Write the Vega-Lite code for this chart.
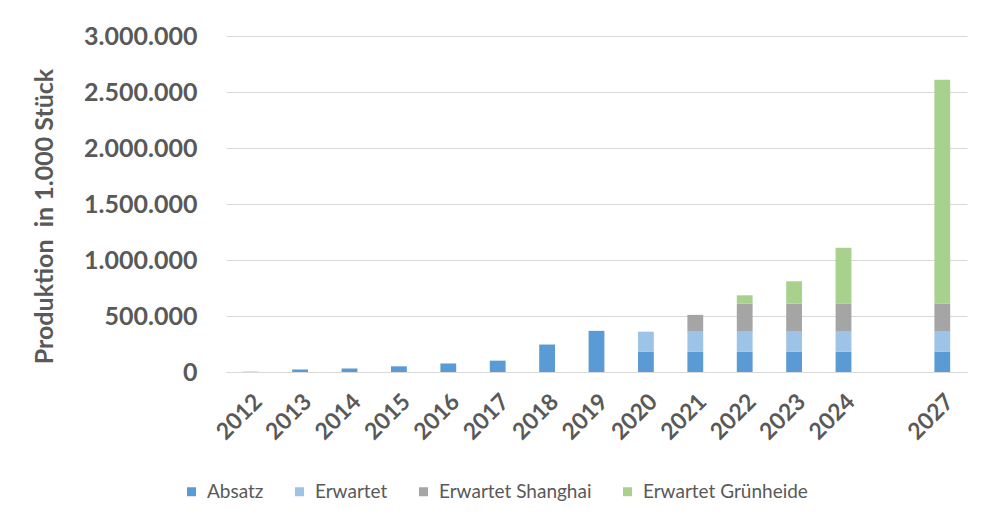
{
  "$schema": "https://vega.github.io/schema/vega-lite/v6.json",
  "autosize": {"type": "none"},
  "width": 741,
  "height": 336,
  "padding": {"left": 226, "top": 36, "right": 16, "bottom": 153},
  "background": "white",
  "config": {
    "locale": {"number": {"decimal": ",", "thousands": ".", "grouping": [3], "currency": ["", " €"]}},
    "view": {"stroke": null},
    "font": "Lato"
  },
  "data": {
    "values": [
      {"Jahr": "2012", "Serie": "Absatz", "Wert": 2650},
      {"Jahr": "2013", "Serie": "Absatz", "Wert": 22477},
      {"Jahr": "2014", "Serie": "Absatz", "Wert": 31655},
      {"Jahr": "2015", "Serie": "Absatz", "Wert": 50580},
      {"Jahr": "2016", "Serie": "Absatz", "Wert": 76230},
      {"Jahr": "2017", "Serie": "Absatz", "Wert": 101312},
      {"Jahr": "2018", "Serie": "Absatz", "Wert": 245240},
      {"Jahr": "2019", "Serie": "Absatz", "Wert": 367500},
      {"Jahr": "2020", "Serie": "Absatz", "Wert": 180000},
      {"Jahr": "2020", "Serie": "Erwartet", "Wert": 180000},
      {"Jahr": "2021", "Serie": "Absatz", "Wert": 180000},
      {"Jahr": "2021", "Serie": "Erwartet", "Wert": 180000},
      {"Jahr": "2021", "Serie": "Erwartet Shanghai", "Wert": 150000},
      {"Jahr": "2022", "Serie": "Absatz", "Wert": 180000},
      {"Jahr": "2022", "Serie": "Erwartet", "Wert": 180000},
      {"Jahr": "2022", "Serie": "Erwartet Shanghai", "Wert": 250000},
      {"Jahr": "2022", "Serie": "Erwartet Grünheide", "Wert": 75000},
      {"Jahr": "2023", "Serie": "Absatz", "Wert": 180000},
      {"Jahr": "2023", "Serie": "Erwartet", "Wert": 180000},
      {"Jahr": "2023", "Serie": "Erwartet Shanghai", "Wert": 250000},
      {"Jahr": "2023", "Serie": "Erwartet Grünheide", "Wert": 200000},
      {"Jahr": "2024", "Serie": "Absatz", "Wert": 180000},
      {"Jahr": "2024", "Serie": "Erwartet", "Wert": 180000},
      {"Jahr": "2024", "Serie": "Erwartet Shanghai", "Wert": 250000},
      {"Jahr": "2024", "Serie": "Erwartet Grünheide", "Wert": 500000},
      {"Jahr": "2027", "Serie": "Absatz", "Wert": 180000},
      {"Jahr": "2027", "Serie": "Erwartet", "Wert": 180000},
      {"Jahr": "2027", "Serie": "Erwartet Shanghai", "Wert": 250000},
      {"Jahr": "2027", "Serie": "Erwartet Grünheide", "Wert": 2000000}
    ]
  },
  "transform": [
    {"calculate": "indexof(['Absatz', 'Erwartet', 'Erwartet Shanghai', 'Erwartet Grünheide'], datum.Serie)", "as": "Reihenfolge"}
  ],
  "mark": {"type": "bar"},
  "encoding": {
    "x": {
      "field": "Jahr",
      "type": "ordinal",
      "scale": {
        "domain": ["2012","2013","2014","2015","2016","2017","2018","2019","2020","2021","2022","2023","2024","2025","2027"],
        "paddingInner": 0.68,
        "paddingOuter": 0.34
      },
      "axis": {
        "title": null,
        "labelAngle": -45,
        "labelExpr": "datum.value == '2025' ? '' : datum.value",
        "labelFontSize": 23,
        "labelFontWeight": "bold",
        "labelColor": "#595959",
        "labelPadding": 18,
        "ticks": false,
        "domainColor": "#d9d9d9",
        "domainWidth": 1
      }
    },
    "y": {
      "field": "Wert",
      "type": "quantitative",
      "stack": "zero",
      "scale": {"domain": [0, 3000000], "nice": false},
      "axis": {
        "title": "Produktion\u00a0 in 1.000 Stück",
        "values": [0, 500000, 1000000, 1500000, 2000000, 2500000, 3000000],
        "format": ",d",
        "labelFontSize": 25,
        "labelFontWeight": "bold",
        "labelColor": "#595959",
        "labelPadding": 29,
        "ticks": false,
        "domain": false,
        "gridColor": "#d9d9d9",
        "gridWidth": 1,
        "titleFontSize": 25,
        "titleFontWeight": "bold",
        "titleColor": "#595959",
        "titleAngle": -90,
        "titleAlign": "center",
        "titleBaseline": "alphabetic",
        "titleX": -174,
        "titleY": 180
      }
    },
    "color": {
      "field": "Serie",
      "type": "nominal",
      "scale": {
        "domain": ["Absatz", "Erwartet", "Erwartet Shanghai", "Erwartet Grünheide"],
        "range": ["#5B9BD5", "#9DC3E6", "#A5A5A5", "#A9D18E"]
      },
      "legend": {
        "title": null,
        "orient": "none",
        "direction": "horizontal",
        "legendX": -44,
        "legendY": 446,
        "symbolType": "square",
        "symbolSize": 81,
        "symbolStrokeWidth": 0,
        "labelFontSize": 19,
        "labelLimit": 400,
        "labelColor": "#595959",
        "labelOffset": 6,
        "columnPadding": 26
      }
    },
    "order": {"field": "Reihenfolge", "type": "quantitative", "sort": "ascending"}
  }
}
